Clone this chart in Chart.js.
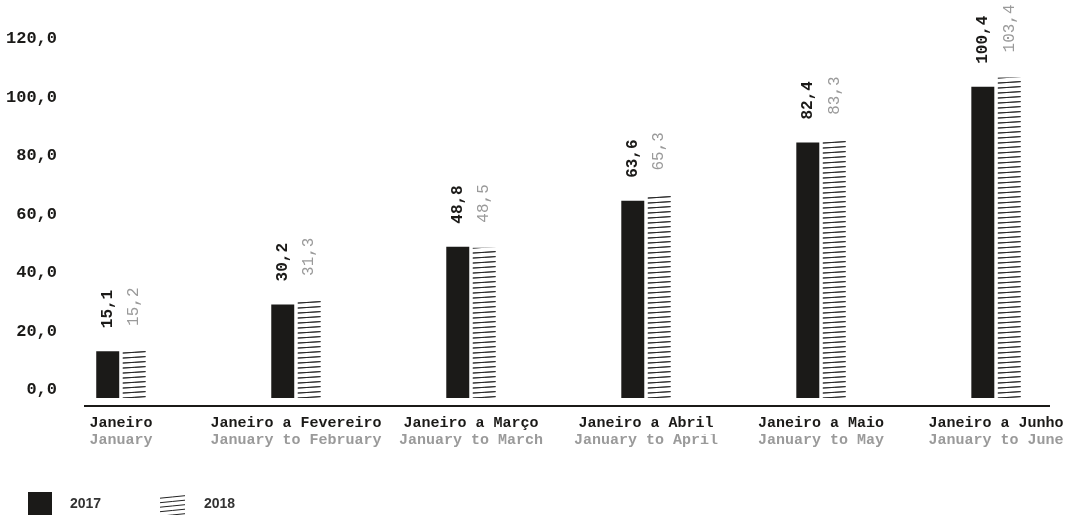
<!DOCTYPE html>
<html>
<head>
<meta charset="utf-8">
<script src="https://cdn.jsdelivr.net/npm/chart.js@4/dist/chart.umd.min.js"></script>
<style>
  html, body { margin: 0; padding: 0; background: #fff; }
  #wrap { width: 1075px; height: 515px; position: relative; }
</style>
</head>
<body>
<div id="wrap"><canvas id="myChart"></canvas></div>
<script>
// Données du graphique
const categoriesPt = ['Janeiro', 'Janeiro a Fevereiro', 'Janeiro a Março', 'Janeiro a Abril', 'Janeiro a Maio', 'Janeiro a Junho'];
const categoriesEn = ['January', 'January to February', 'January to March', 'January to April', 'January to May', 'January to June'];
const values2017 = [15.1, 30.2, 48.8, 63.6, 82.4, 100.4];
const values2018 = [15.2, 31.3, 48.5, 65.3, 83.3, 103.4];
const yTickValues = [0, 20, 40, 60, 80, 100, 120];
const seriesNames = ['2017', '2018'];

const MONO = '"Liberation Mono", "Courier New", monospace';
const DARK = '#1b1a18';
const GREY = '#9a9a9a';

function fmt(v) {
    return v.toFixed(1).replace('.', ',');
}

// Motif hachuré pour 2018 (traits légèrement inclinés)
function makeHatch() {
    const c = document.createElement('canvas');
    c.width = 175;
    c.height = 5;
    const g = c.getContext('2d');
    g.strokeStyle = '#222';
    g.lineWidth = 0.9;
    for (let k = -1; k < 6; k++) {
        const xs = 117 + k * 35 - 175;
        for (let off = -5; off <= 5; off += 5) {
            for (let rep = 0; rep < 2; rep++) {
                const x0 = xs + rep * 175;
                g.beginPath();
                g.moveTo(x0, 3.4 + off);
                g.quadraticCurveTo(x0 + 17, 2.4 + off, x0 + 35, 1.2 + off);
                g.stroke();
            }
        }
    }
    return g.createPattern(c, 'repeat');
}

const ctx = document.getElementById('myChart').getContext('2d');
const hatch = makeHatch();

// Étiquettes de valeur verticales au-dessus des barres
const valueLabels = {
    id: 'valueLabels',
    afterDatasetsDraw(chart) {
        const c = chart.ctx;
        chart.data.datasets.forEach((ds, di) => {
            chart.getDatasetMeta(di).data.forEach((bar, i) => {
                c.save();
                c.translate(bar.x, bar.y - (di === 0 ? 23 : 25));
                c.rotate(-Math.PI / 2);
                c.textAlign = 'left';
                c.textBaseline = 'middle';
                c.font = (di === 0 ? 'bold ' : '') + '16px ' + MONO;
                c.fillStyle = di === 0 ? DARK : GREY;
                c.fillText(fmt(ds.data[i].y), 0, 0);
                c.restore();
            });
        });
    }
};

// Légende dessinée à la main en bas à gauche
const bottomLegend = {
    id: 'bottomLegend',
    afterDraw(chart) {
        const c = chart.ctx;
        c.save();
        c.fillStyle = DARK;
        c.fillRect(28, 492, 24, 24);
        c.strokeStyle = '#222';
        c.lineWidth = 1;
        for (let j = 0; j < 5; j++) {
            const y = 497 + j * 4.5;
            c.beginPath();
            c.moveTo(160, y + 1.2);
            c.quadraticCurveTo(172, y, 185, y - 1.3);
            c.stroke();
        }
        c.font = 'bold 14px "Liberation Sans", Arial, sans-serif';
        c.fillStyle = '#333';
        c.textBaseline = 'middle';
        c.fillText(seriesNames[0], 70, 504);
        c.fillText(seriesNames[1], 204, 504);
        c.restore();
    }
};

const myChart = new Chart(ctx, {
    type: 'bar',
    data: {
        datasets: [
            {
                label: seriesNames[0],
                data: values2017.map((v, i) => ({ x: i, y: v })),
                backgroundColor: DARK,
                categoryPercentage: 0.3025,
                barPercentage: 0.868
            },
            {
                label: seriesNames[1],
                data: values2018.map((v, i) => ({ x: i, y: v })),
                backgroundColor: hatch,
                categoryPercentage: 0.3025,
                barPercentage: 0.868
            }
        ]
    },
    options: {
        responsive: true,
        maintainAspectRatio: false,
        animation: false,
        layout: { padding: { top: 10, right: 26, bottom: 61, left: 0 } },
        plugins: {
            legend: { display: false },
            tooltip: { enabled: false }
        },
        scales: {
            x: {
                type: 'linear',
                offset: false,
                min: -0.2055,
                max: 5.3025,
                weight: 0,
                grid: { display: false, drawTicks: false, offset: false },
                border: { display: true, color: DARK, width: 2 },
                afterBuildTicks: s => { s.ticks = categoriesPt.map((_, i) => ({ value: i })); },
                afterFit: s => { s.height = 28; },
                ticks: {
                    padding: 8,
                    autoSkip: false,
                    maxRotation: 0,
                    color: DARK,
                    font: { family: MONO, size: 15, weight: 'bold' },
                    callback: v => categoriesPt[v]
                }
            },
            x2: {
                type: 'linear',
                position: 'bottom',
                offset: false,
                min: -0.2055,
                max: 5.3025,
                weight: 1,
                grid: { display: false, drawTicks: false, offset: false },
                border: { display: false },
                afterBuildTicks: s => { s.ticks = categoriesEn.map((_, i) => ({ value: i })); },
                afterFit: s => { s.height = 20; },
                ticks: {
                    padding: -3,
                    autoSkip: false,
                    maxRotation: 0,
                    color: GREY,
                    font: { family: MONO, size: 15, weight: 'bold' },
                    callback: v => categoriesEn[v]
                }
            },
            y: {
                display: false,
                min: -2.58,
                max: 116.06
            },
            yT: {
                position: 'left',
                min: -5.47,
                max: 120.27,
                grid: { display: false, drawTicks: false },
                border: { display: false },
                afterBuildTicks: s => { s.ticks = yTickValues.map(v => ({ value: v })); },
                afterFit: s => { s.width = 85; },
                ticks: {
                    padding: 28,
                    color: DARK,
                    font: { family: MONO, size: 17, weight: 'bold' },
                    callback: v => fmt(v)
                }
            }
        }
    },
    plugins: [valueLabels, bottomLegend]
});
</script>
</body>
</html>
